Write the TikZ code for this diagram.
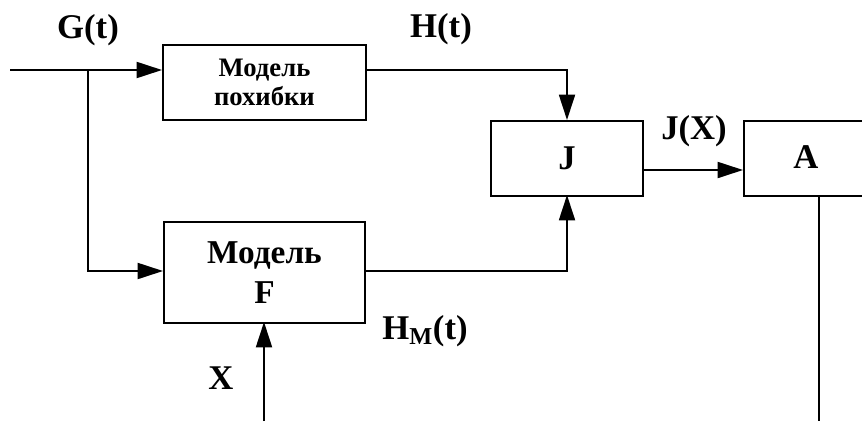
\documentclass[tikz,border=0pt]{standalone}
\usepackage{fontspec}
\setmainfont{Liberation Serif}
\usetikzlibrary{arrows.meta}
\begin{document}
\begin{tikzpicture}[x=0.75pt,y=-0.75pt,
  line width=1.4pt,
  blk/.style={draw,line width=1.4pt,inner sep=0pt,anchor=north west},
  lbl/.style={font=\fontsize{26}{28}\selectfont\bfseries,inner sep=0pt},
  sig/.style={-{Triangle[length=19pt,width=12pt]}}]
\useasboundingbox (0,0) rectangle (862,421);
% blocks
\node[blk,minimum width=203*0.75pt,minimum height=75*0.75pt] (err) at (162,44) {};
\node[font=\fontsize{20}{22}\selectfont\bfseries,align=center] at (err.center) {Модель\\похибки};
\node[blk,minimum width=201*0.75pt,minimum height=101*0.75pt] (mf) at (163,221) {};
\node[font=\fontsize{25}{30}\selectfont\bfseries,align=center] at (mf.center) {Модель\\F};
\node[blk,minimum width=152*0.75pt,minimum height=75*0.75pt] (J) at (490,120) {};
\node[lbl] at (J.center) {J};
\begin{scope}
\clip (0,0) rectangle (862,421);
\node[blk,minimum width=160*0.75pt,minimum height=75*0.75pt] (A) at (743,120) {};
\end{scope}
\node[lbl] at (806,157) {A};
% free ends
\coordinate (in) at (10,70);
\coordinate (br) at (88,70);
\coordinate (xin) at (264,421);
\coordinate (aout) at (819,421);
% connectors
\draw[sig] (in) -- (err.west |- in);
\draw[sig] (br) |- (mf.west |- 0,271);
\draw[sig] (err.east |- 0,70) -| (567,120);
\draw[sig] (mf.east |- 0,271) -| (567,195);
\draw[sig] (J.east |- 0,170) -- (A.west |- 0,170);
\draw[sig] (xin) -- (264,322);
\draw (819,195) -- (aout);
% signal labels
\node[lbl] at (88,30) {G(t)};
\node[lbl] at (441,29) {H(t)};
\node[lbl] at (694,131) {J(X)};
\node[lbl] at (425,331) {H\textsubscript{M}(t)};
\node[lbl] at (221,378) {X};
\end{tikzpicture}
\end{document}
